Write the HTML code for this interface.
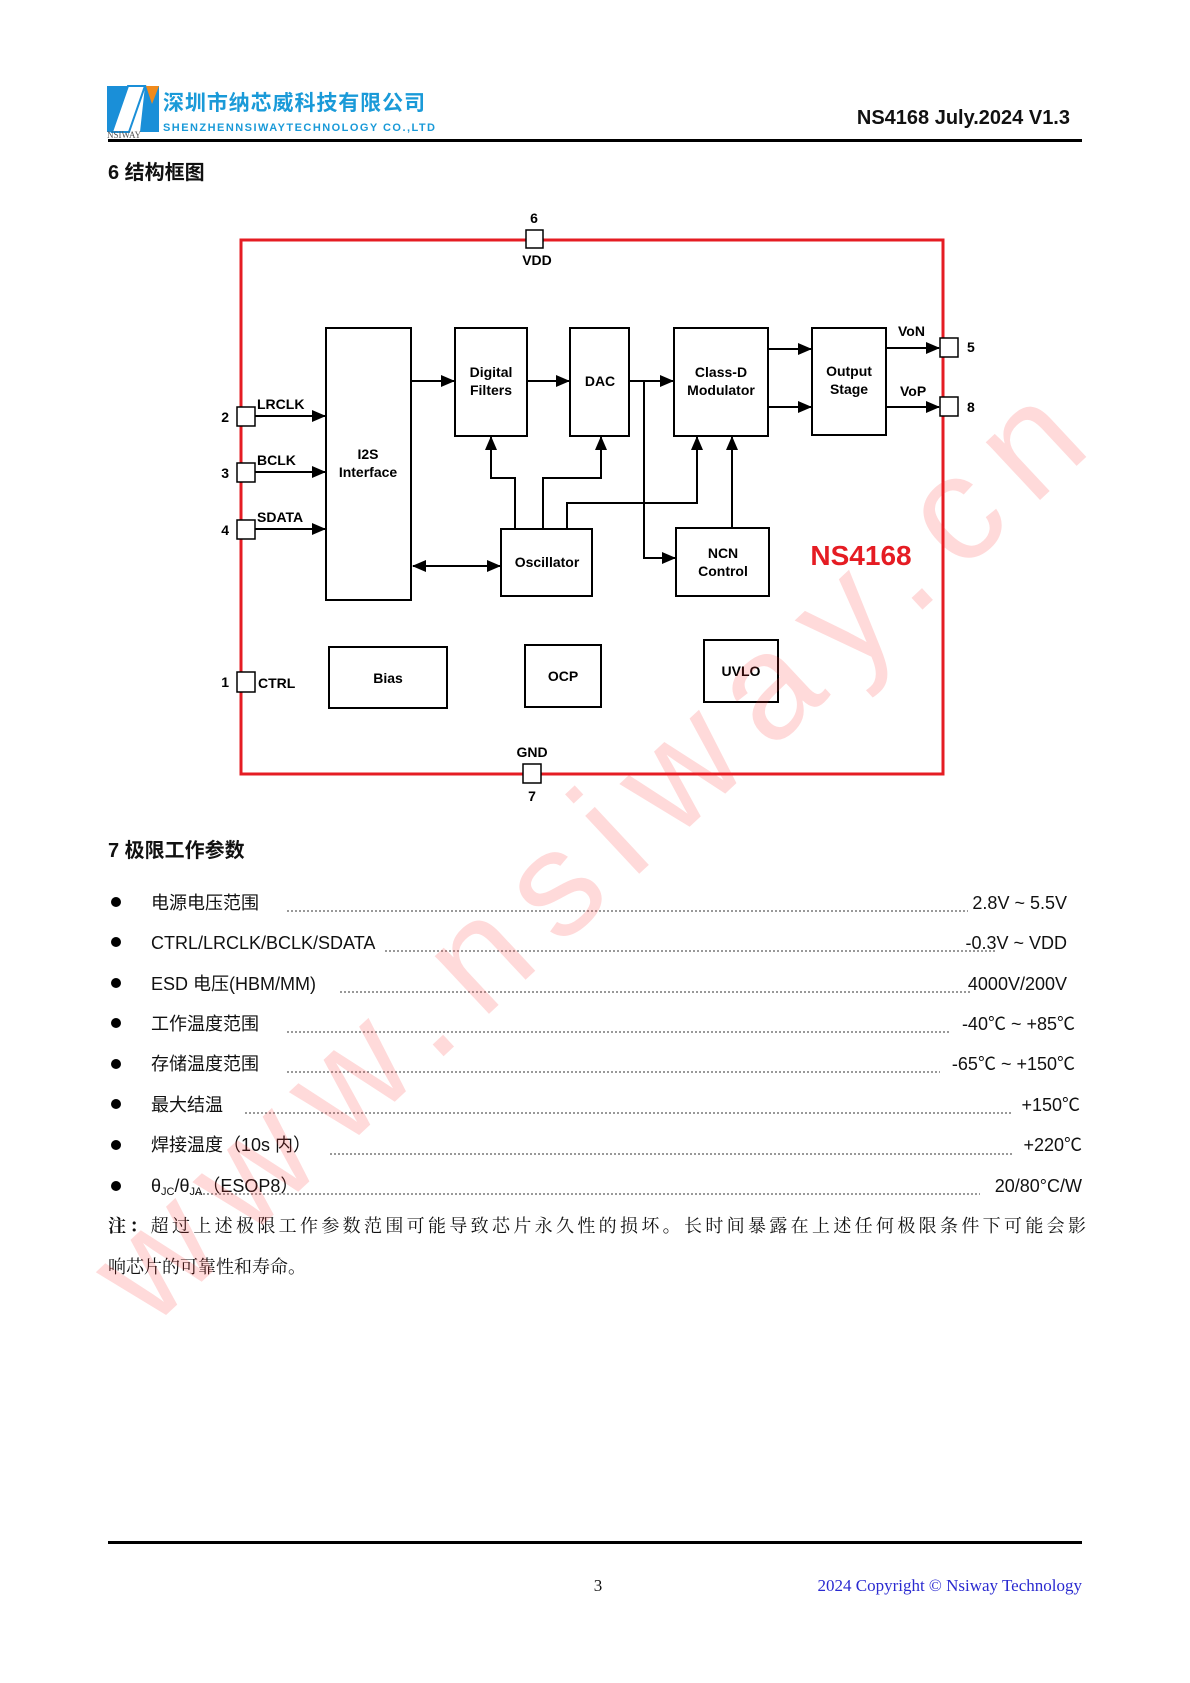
<!DOCTYPE html>
<html><head><meta charset="utf-8"><style>
html,body{margin:0;padding:0;background:#fff;}
svg{display:block}
.b{font-family:"Liberation Sans",Arial,sans-serif;font-weight:bold;font-size:14px;fill:#000}
.t{font-family:"Liberation Sans","Noto Sans CJK SC",sans-serif;font-size:18px;fill:#111}
.s{font-family:"Liberation Serif","Noto Serif CJK SC",serif;font-size:18px;fill:#111}
</style></head><body>
<svg width="1190" height="1683" viewBox="0 0 1190 1683" xmlns="http://www.w3.org/2000/svg">
<defs>
<marker id="a" markerWidth="14" markerHeight="12" refX="13" refY="6" orient="auto" markerUnits="userSpaceOnUse">
<path d="M0,0 L14,6 L0,12 z" fill="#000"/></marker>
<marker id="as" markerWidth="14" markerHeight="12" refX="1" refY="6" orient="auto" markerUnits="userSpaceOnUse">
<path d="M14,0 L0,6 L14,12 z" fill="#000"/></marker>
</defs>
<!-- header -->
<polygon points="107,86 128,86 112,132 107,132" fill="#1a8fd8"/>
<polygon points="128,86 145,86 129,132 112,132" fill="#fff" stroke="#1a8fd8" stroke-width="2"/>
<polygon points="145,86 159,86 159,132 140,132" fill="#1a8fd8"/>
<polygon points="146,86 159,86 152,104" fill="#f08a1c"/>
<text x="107" y="138" font-family="Liberation Serif,serif" font-size="9" fill="#555">NSIWAY</text>
<text x="163" y="110" font-family="Liberation Sans,'Noto Sans CJK SC',sans-serif" font-weight="bold" font-size="21" fill="#1a9ad8" textLength="262">深圳市纳芯威科技有限公司</text>
<text x="163" y="131" font-family="Liberation Sans,sans-serif" font-weight="bold" font-size="11" fill="#1a9ad8" textLength="272">SHENZHENNSIWAYTECHNOLOGY CO.,LTD</text>
<text x="1070" y="124" text-anchor="end" font-family="Liberation Sans,sans-serif" font-weight="bold" font-size="20" fill="#111">NS4168 July.2024 V1.3</text>
<rect x="108" y="139" width="974" height="3" fill="#000"/>
<text x="108" y="179" font-family="Liberation Sans,'Noto Sans CJK SC',sans-serif" font-weight="bold" font-size="20" fill="#111">6  结构框图</text>

<!-- diagram -->
<rect x="241" y="240" width="702" height="534" fill="none" stroke="#e51c23" stroke-width="3"/>
<g fill="#fff" stroke="#000" stroke-width="1.5">
<rect x="526" y="230" width="17" height="18"/>
<rect x="237" y="407" width="18" height="19"/>
<rect x="237" y="463" width="18" height="19"/>
<rect x="237" y="520" width="18" height="19"/>
<rect x="237" y="672" width="18" height="20"/>
<rect x="940" y="338" width="18" height="19"/>
<rect x="940" y="397" width="18" height="19"/>
<rect x="523" y="764" width="18" height="19"/>
</g>
<g fill="none" stroke="#000" stroke-width="2">
<rect x="326" y="328" width="85" height="272"/>
<rect x="455" y="328" width="72" height="108"/>
<rect x="570" y="328" width="59" height="108"/>
<rect x="674" y="328" width="94" height="108"/>
<rect x="812" y="328" width="74" height="107"/>
<rect x="501" y="529" width="91" height="67"/>
<rect x="676" y="528" width="93" height="68"/>
<rect x="329" y="647" width="118" height="61"/>
<rect x="525" y="645" width="76" height="62"/>
<rect x="704" y="640" width="74" height="62"/>
</g>
<g stroke="#000" stroke-width="2" fill="none">
<line x1="255" y1="416" x2="325" y2="416" marker-end="url(#a)"/>
<line x1="255" y1="472" x2="325" y2="472" marker-end="url(#a)"/>
<line x1="255" y1="529" x2="325" y2="529" marker-end="url(#a)"/>
<line x1="411" y1="381" x2="454" y2="381" marker-end="url(#a)"/>
<line x1="527" y1="381" x2="569" y2="381" marker-end="url(#a)"/>
<line x1="629" y1="381" x2="673" y2="381" marker-end="url(#a)"/>
<line x1="768" y1="349" x2="811" y2="349" marker-end="url(#a)"/>
<line x1="768" y1="407" x2="811" y2="407" marker-end="url(#a)"/>
<line x1="886" y1="348" x2="939" y2="348" marker-end="url(#a)"/>
<line x1="886" y1="407" x2="939" y2="407" marker-end="url(#a)"/>
<polyline points="644,381 644,558 675,558" marker-end="url(#a)"/>
<polyline points="515,529 515,478 491,478 491,437" marker-end="url(#a)"/>
<polyline points="543,529 543,478 601,478 601,437" marker-end="url(#a)"/>
<polyline points="567,529 567,503 697,503 697,437" marker-end="url(#a)"/>
<line x1="732" y1="528" x2="732" y2="437" marker-end="url(#a)"/>
<line x1="413" y1="566" x2="500" y2="566" marker-start="url(#as)" marker-end="url(#a)"/>
</g>
<g class="b">
<text x="534" y="223" text-anchor="middle">6</text>
<text x="537" y="265" text-anchor="middle">VDD</text>
<text x="257" y="409">LRCLK</text>
<text x="257" y="465">BCLK</text>
<text x="257" y="522">SDATA</text>
<text x="258" y="688">CTRL</text>
<text x="229" y="422" text-anchor="end">2</text>
<text x="229" y="478" text-anchor="end">3</text>
<text x="229" y="535" text-anchor="end">4</text>
<text x="229" y="687" text-anchor="end">1</text>
<text x="967" y="352">5</text>
<text x="967" y="412">8</text>
<text x="898" y="336">VoN</text>
<text x="900" y="396">VoP</text>
<text x="532" y="757" text-anchor="middle">GND</text>
<text x="532" y="801" text-anchor="middle">7</text>
<text x="368" y="459" text-anchor="middle">I2S</text>
<text x="368" y="477" text-anchor="middle">Interface</text>
<text x="491" y="377" text-anchor="middle">Digital</text>
<text x="491" y="395" text-anchor="middle">Filters</text>
<text x="600" y="386" text-anchor="middle">DAC</text>
<text x="721" y="377" text-anchor="middle">Class-D</text>
<text x="721" y="395" text-anchor="middle">Modulator</text>
<text x="849" y="376" text-anchor="middle">Output</text>
<text x="849" y="394" text-anchor="middle">Stage</text>
<text x="547" y="567" text-anchor="middle">Oscillator</text>
<text x="723" y="558" text-anchor="middle">NCN</text>
<text x="723" y="576" text-anchor="middle">Control</text>
<text x="388" y="683" text-anchor="middle">Bias</text>
<text x="563" y="681" text-anchor="middle">OCP</text>
<text x="741" y="676" text-anchor="middle">UVLO</text>
</g>
<text x="861" y="565" text-anchor="middle" font-family="Liberation Sans,sans-serif" font-weight="bold" font-size="28" fill="#e51c23">NS4168</text>

<!-- section 7 -->
<text x="108" y="857" font-family="Liberation Sans,'Noto Sans CJK SC',sans-serif" font-weight="bold" font-size="20" fill="#111">7  极限工作参数</text>
<g fill="#000">
<circle cx="116" cy="902" r="5"/><circle cx="116" cy="942" r="5"/><circle cx="116" cy="983" r="5"/>
<circle cx="116" cy="1023" r="5"/><circle cx="116" cy="1064" r="5"/><circle cx="116" cy="1104" r="5"/>
<circle cx="116" cy="1145" r="5"/><circle cx="116" cy="1186" r="5"/>
</g>
<g stroke="#333" stroke-width="1" stroke-dasharray="2,2">
<line x1="287" y1="911" x2="968" y2="911"/>
<line x1="385" y1="951" x2="995" y2="951"/>
<line x1="340" y1="992" x2="970" y2="992"/>
<line x1="287" y1="1032" x2="950" y2="1032"/>
<line x1="287" y1="1072" x2="940" y2="1072"/>
<line x1="245" y1="1113" x2="1012" y2="1113"/>
<line x1="330" y1="1154" x2="1012" y2="1154"/>
<line x1="195" y1="1194" x2="980" y2="1194"/>
</g>
<g class="t">
<text x="151" y="909">电源电压范围</text>
<text x="151" y="949">CTRL/LRCLK/BCLK/SDATA</text>
<text x="151" y="990">ESD 电压(HBM/MM)</text>
<text x="151" y="1030">工作温度范围</text>
<text x="151" y="1070">存储温度范围</text>
<text x="151" y="1111">最大结温</text>
<text x="151" y="1151">焊接温度（10s 内）</text>
<text x="151" y="1192">θ<tspan font-size="11" dy="3">JC</tspan><tspan dy="-3">/θ</tspan><tspan font-size="11" dy="3">JA</tspan><tspan dy="-3">（ESOP8）</tspan></text>
<text x="1067" y="909" text-anchor="end">2.8V ~ 5.5V</text>
<text x="1067" y="949" text-anchor="end">-0.3V ~ VDD</text>
<text x="1067" y="990" text-anchor="end">4000V/200V</text>
<text x="1075" y="1030" text-anchor="end">-40℃ ~ +85℃</text>
<text x="1075" y="1070" text-anchor="end">-65℃ ~ +150℃</text>
<text x="1080" y="1111" text-anchor="end">+150℃</text>
<text x="1082" y="1151" text-anchor="end">+220℃</text>
<text x="1082" y="1192" text-anchor="end">20/80°C/W</text>
</g>
<text class="s" x="108" y="1232" textLength="978"><tspan font-weight="bold">注：</tspan>超过上述极限工作参数范围可能导致芯片永久性的损坏。长时间暴露在上述任何极限条件下可能会影</text>
<text class="s" x="108" y="1273">响芯片的可靠性和寿命。</text>

<!-- watermark -->
<text x="0" y="0" transform="translate(150,1330) rotate(-43)" font-family="Liberation Sans,sans-serif" font-size="150" fill="#ff3030" fill-opacity="0.18" textLength="1290">www.nsiway.cn</text>

<!-- footer -->
<rect x="108" y="1541" width="974" height="3" fill="#000"/>
<text x="598" y="1591" text-anchor="middle" font-family="Liberation Serif,serif" font-size="17" fill="#111">3</text>
<text x="1082" y="1591" text-anchor="end" font-family="Liberation Serif,serif" font-size="17" fill="#2a2ad0">2024 Copyright © Nsiway Technology</text>
</svg>
</body></html>
